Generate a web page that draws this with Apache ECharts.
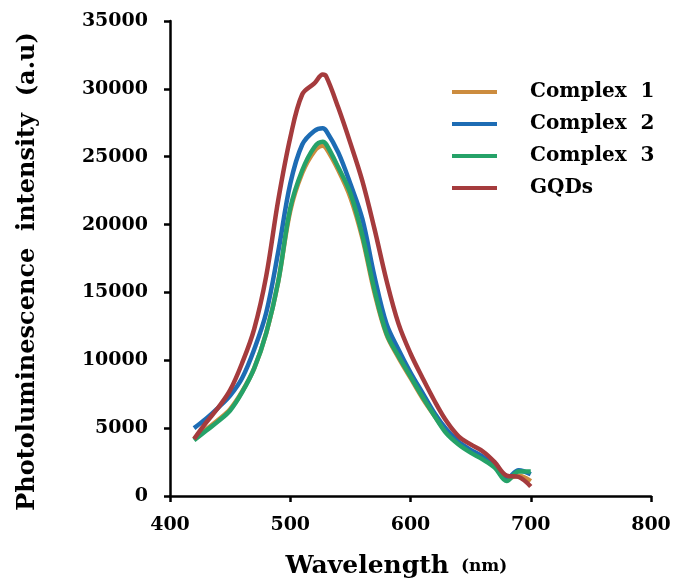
<!DOCTYPE html>
<html>
<head>
<meta charset="utf-8">
<script src="https://cdn.jsdelivr.net/npm/echarts@6/dist/echarts.min.js"></script>
<style>
html,body{margin:0;padding:0;background:#fff;}
#chart{width:675px;height:587px;}
</style>
</head>
<body>
<div id="chart"></div>
<script>
var wavelengths = [420,430,440,450,460,470,480,490,500,510,520,527,530,540,550,560,570,580,590,600,610,620,630,640,650,660,670,680,690,700];
var complex1 = [4200,4900,5600,6400,7700,9400,12000,15800,21000,23800,25400,25800,25600,24000,22000,19000,15000,11900,10200,8700,7200,5900,4700,3900,3300,2800,2200,1300,1500,1100];
var complex2 = [5000,5700,6500,7400,8700,10800,13500,18000,23000,25900,26900,27100,26900,25300,23000,20400,16200,12700,10800,9100,7600,6100,4900,4000,3400,2900,2200,1300,1900,1600];
var complex3 = [4100,4800,5500,6300,7650,9400,12000,15800,21200,24000,25700,26100,25900,24200,22300,19200,15200,12000,10300,8800,7300,5900,4600,3800,3200,2700,2100,1100,1800,1800];
var gqds = [4200,5400,6500,7800,9800,12300,16200,21800,26400,29600,30400,31050,30900,28600,26000,23200,19700,15900,12700,10500,8700,7000,5500,4400,3800,3300,2500,1500,1400,700];
var seriesNames = ['Complex  1','Complex  2','Complex  3','GQDs'];
var seriesColors = ['#CC8C3E','#1D6CB4','#25A268','#A53B3D'];
var xTicks = {min:400, max:800, interval:100};
var yTicks = {min:0, max:35000, interval:5000};

function pairs(vals){ return wavelengths.map(function(w,i){ return [w, vals[i]]; }); }
var allVals = [complex1, complex2, complex3, gqds];
var FONT = 'DejaVu Serif';

var chart = echarts.init(document.getElementById('chart'), null, {renderer:'canvas'});
chart.setOption({
  backgroundColor:'#fff',
  animation:false,
  grid:{left:170, right:24, top:21, bottom:91, containLabel:false},
  legend:{
    orient:'vertical', left:447, top:76, itemWidth:45, itemHeight:4, itemGap:10,
    icon:'rect',
    data:seriesNames,
    textStyle:{fontFamily:FONT, fontWeight:'bold', fontSize:20, color:'#000', padding:[0,0,0,28], lineHeight:22}
  },
  xAxis:{
    type:'value', min:xTicks.min, max:xTicks.max, interval:xTicks.interval,
    splitLine:{show:false},
    axisLine:{show:true, lineStyle:{color:'#000', width:2.5}},
    axisTick:{show:true, inside:false, length:6, lineStyle:{color:'#000', width:2.5}},
    axisLabel:{margin:20, fontFamily:FONT, fontWeight:'bold', fontSize:19, color:'#000', formatter:function(v){return String(v);}},
    name:'{a|Wavelength}{b|(nm)}', nameLocation:'middle', nameGap:58,
    nameTextStyle:{padding:[0,28,0,0], rich:{a:{fontFamily:FONT, fontWeight:'bold', fontSize:25, color:'#000'}, b:{fontFamily:FONT, fontWeight:'bold', fontSize:17, color:'#000', padding:[0,0,0,12]}}}
  },
  yAxis:{
    type:'value', min:yTicks.min, max:yTicks.max, interval:yTicks.interval,
    splitLine:{show:false},
    axisLine:{show:true, lineStyle:{color:'#000', width:2.5}},
    axisTick:{show:true, inside:false, length:6, lineStyle:{color:'#000', width:2.5}},
    axisLabel:{margin:22, fontFamily:FONT, fontWeight:'bold', fontSize:19, color:'#000', formatter:function(v){return String(v);}},
    name:'Photoluminescence  intensity  (a.u)', nameLocation:'middle', nameGap:130, nameRotate:90,
    nameTextStyle:{fontFamily:FONT, fontWeight:'bold', fontSize:24, color:'#000', padding:[0,26,0,0]}
  },
  series: allVals.map(function(v,i){
    return {
      name:seriesNames[i], type:'line', data:pairs(v), smooth:0.35, showSymbol:false, symbol:'none',
      lineStyle:{color:seriesColors[i], width:4.5}, itemStyle:{color:seriesColors[i]}, z:2+i
    };
  })
});
</script>
</body>
</html>
